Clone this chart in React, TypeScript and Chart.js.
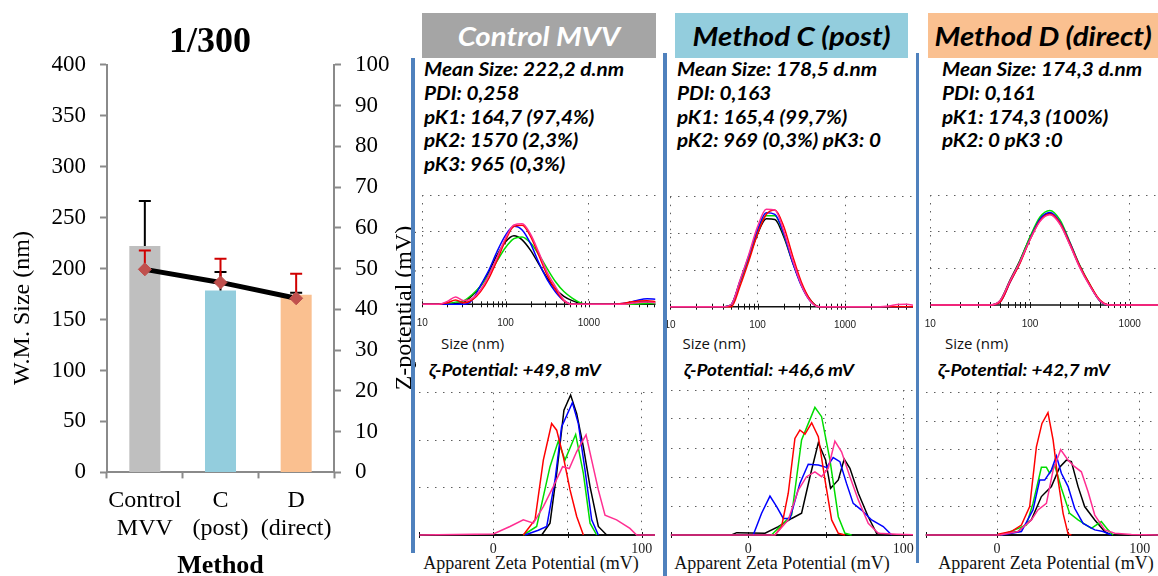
import React, { useEffect, useRef } from 'react';
import { Chart, registerables } from 'chart.js';

Chart.register(...registerables);

const SERIF = '"Liberation Serif", "Times New Roman", serif';
const LATO = 'Lato, "Open Sans", sans-serif';

// ---------------- main chart data ----------------
const METHOD_LABELS = [['Control', 'MVV'], ['C', '(post)'], ['D', '(direct)']];
const WM_SIZE = [222.2, 178.5, 174.3];
const WM_SIZE_ERR = [44, 18, 2];
const Z_POTENTIAL = [49.8, 46.6, 42.7];
const Z_POTENTIAL_ERR = [4.6, 5.8, 6.0];
const BAR_COLORS = ['#BFBFBF', '#93CDDD', '#FAC090'];

// ---------------- panel texts ----------------
const PANEL_TITLES = ['Control MVV', 'Method C (post)', 'Method D (direct)'];
const CTRL_STATS = ['Mean Size: 222,2 d.nm', 'PDI: 0,258', 'pK1: 164,7 (97,4%)', 'pK2: 1570 (2,3%)', 'pK3: 965 (0,3%)'];
const METHOD_C_STATS = ['Mean Size: 178,5 d.nm', 'PDI: 0,163', 'pK1: 165,4 (99,7%)', 'pK2: 969 (0,3%) pK3: 0'];
const METHOD_D_STATS = ['Mean Size: 174,3 d.nm', 'PDI: 0,161', 'pK1: 174,3 (100%)', 'pK2: 0 pK3 :0'];
const ZETA_TEXTS = ['ζ-Potential: +49,8 mV', 'ζ-Potential: +46,6 mV', 'ζ-Potential: +42,7 mV'];

// ---------------- size distribution (nm, log axis) ----------------
const SIZE_NM = [10, 12.6, 15.8, 20, 25.1, 31.6, 39.8, 50.1, 63.1, 79.4, 100, 126, 158, 200, 251, 316, 398, 501, 631, 794, 1000, 1259, 1585, 1995, 2512, 3162, 3981, 5012, 6310];
const SIZE_AXIS_TICKS = [10, 20, 30, 40, 50, 60, 70, 80, 90, 100, 200, 300, 400, 500, 600, 700, 800, 900, 1000, 2000, 3000, 4000, 5000, 6000];
const SIZE_AXIS_LABELED = [10, 100, 1000];
const SIZE_Y_TICKS = [0, 5, 10, 15];

const CTRL_SIZE_PINK = [0, 0, 0, 0.4, 1.0, 0.5, 0.8, 2.0, 4.0, 6.5, 9.1, 10.9, 11.05, 9.6, 7.1, 4.4, 2.4, 0.6, 0, 0, 0, 0, 0, 0, 0, 0.1, 0.25, 0.3, 0.2];
const CTRL_SIZE_RED = [0, 0, 0, 0.2, 0.6, 0.2, 0.6, 1.75, 3.6, 6.1, 8.8, 10.7, 10.85, 9.3, 6.7, 4.0, 2.0, 0.5, 0, 0, 0, 0, 0, 0, 0.1, 0.3, 0.45, 0.5, 0.35];
const CTRL_SIZE_BLUE = [0, 0, 0, 0, 0, 0, 0.6, 2.6, 4.7, 7.3, 9.5, 10.7, 10.2, 8.3, 5.7, 3.4, 1.7, 0.5, 0, 0, 0, 0, 0, 0, 0.1, 0.3, 0.6, 0.75, 0.7];
const CTRL_SIZE_GREEN = [0, 0, 0, 0.1, 0.3, 0.5, 1.35, 2.5, 4.1, 6.0, 7.8, 9.0, 9.25, 8.4, 6.8, 4.9, 3.1, 1.75, 0.85, 0.2, 0, 0, 0, 0, 0, 0, 0.05, 0.1, 0.1];
const CTRL_SIZE_BLACK = [0, 0, 0, 0, 0.1, 0.3, 1.2, 2.5, 4.5, 6.8, 8.6, 9.4, 8.85, 7.4, 5.5, 3.6, 2.1, 1.1, 0.5, 0.1, 0, 0, 0, 0, 0, 0.1, 0.3, 0.35, 0.3];

const C_SIZE_PINK = [0, 0, 0, 0, 0, 0, 0, 0.3, 3.6, 7.1, 10.9, 13.3, 13.2, 10.3, 6.4, 3.0, 0.8, 0, 0, 0, 0, 0, 0, 0, 0, 0.1, 0.3, 0.35, 0.15];
const C_SIZE_RED = [0, 0, 0, 0, 0, 0, 0, 0, 2.8, 6.2, 9.9, 12.6, 13.2, 10.9, 7.0, 3.4, 1.0, 0, 0, 0, 0, 0, 0, 0, 0, 0, 0, 0, 0];
const C_SIZE_BLUE = [0, 0, 0, 0, 0, 0, 0, 0.3, 3.5, 6.9, 10.5, 12.8, 12.6, 9.9, 6.1, 2.9, 0.8, 0, 0, 0, 0, 0, 0, 0, 0, 0, 0, 0, 0];
const C_SIZE_GREEN = [0, 0, 0, 0, 0, 0, 0, 0.3, 3.4, 6.7, 10.2, 12.4, 12.4, 9.8, 6.2, 3.0, 0.9, 0, 0, 0, 0, 0, 0, 0, 0, 0, 0, 0, 0];
const C_SIZE_BLACK = [0, 0, 0, 0, 0, 0, 0, 0.3, 3.4, 6.6, 9.9, 12.0, 11.9, 9.5, 6.1, 3.1, 1.0, 0, 0, 0, 0, 0, 0, 0, 0, 0, 0, 0, 0];

const D_SIZE_PINK = [0, 0, 0, 0, 0, 0, 0, 0.6, 3.3, 5.9, 8.9, 11.4, 12.3, 11.0, 8.2, 5.1, 2.6, 0.6, 0, 0, 0, 0, 0, 0, 0, 0, 0, 0, 0];
const D_SIZE_RED = [0, 0, 0, 0, 0, 0, 0, 0.4, 3.1, 5.7, 8.9, 11.5, 12.4, 11.2, 8.4, 5.3, 2.8, 0.7, 0, 0, 0, 0, 0, 0, 0, 0, 0, 0, 0];
const D_SIZE_BLUE = [0, 0, 0, 0, 0, 0, 0, 0.4, 3.1, 5.8, 9.0, 11.7, 12.6, 11.3, 8.5, 5.3, 2.7, 0.6, 0, 0, 0, 0, 0, 0, 0, 0, 0, 0, 0];
const D_SIZE_GREEN = [0, 0, 0, 0, 0, 0, 0, 0.5, 3.2, 6.0, 9.3, 12.0, 12.9, 11.6, 8.6, 5.4, 2.8, 0.6, 0, 0, 0, 0, 0, 0, 0, 0, 0, 0, 0];
const D_SIZE_BLACK = [0, 0, 0, 0, 0, 0, 0, 0.6, 3.4, 6.1, 9.2, 11.7, 12.5, 11.1, 8.3, 5.2, 2.7, 0.6, 0, 0, 0, 0, 0, 0, 0, 0, 0, 0, 0];

// ---------------- zeta distribution ([mV, counts]) ----------------
const ZETA_AXIS_TICKS = [-50, 0, 50, 100];
const ZETA_AXIS_LABELED = [0, 100];
const CTRL_ZETA_Y_TICKS = [0, 1, 2, 3];
const METHOD_ZETA_Y_TICKS = [0, 1, 2, 3, 4, 5];

const CTRL_ZETA_PINK = [[-50, 0], [0, 0.02], [11.2, 0.18], [20.2, 0.32], [27, 0.25], [33.7, 0.6], [40.4, 1.02], [46.7, 1.44], [51.2, 1.4], [56.2, 1.76], [62.5, 2.11], [66.3, 1.58], [70.8, 0.95], [75.3, 0.42], [83.1, 0.32], [92.1, 0.14], [96.6, 0], [110, 0]];
const CTRL_ZETA_RED = [[20.2, 0], [28.1, 0.32], [33.7, 1.58], [39.3, 2.35], [42.7, 2.21], [47.2, 1.65], [51.7, 0.95], [56.2, 0.39], [60.7, 0]];
const CTRL_ZETA_BLUE = [[21.3, 0], [30.3, 0.1], [36, 0.18], [41.6, 1.16], [46, 2.28], [53.3, 2.79], [57.3, 2.35], [61.8, 1.37], [66.3, 0.32], [70.8, 0]];
const CTRL_ZETA_GREEN = [[20.2, 0], [29.2, 0.18], [38.2, 1.44], [43.8, 1.98], [48.3, 1.58], [55.5, 2.12], [60.7, 1.3], [65.2, 0.25], [69.7, 0]];
const CTRL_ZETA_BLACK = [[32.6, 0], [38.2, 0.25], [42.7, 1.3], [47.6, 2.63], [52.1, 2.95], [56.2, 2.56], [60.7, 1.86], [65.2, 1.02], [70.8, 0.18], [76.4, 0]];

const C_ZETA_PINK = [[-50, 0], [17.2, 0], [25.8, 0.52], [32.3, 1.55], [37.6, 2.01], [43, 2.18], [47.3, 2.01], [51.6, 2.3], [55.9, 3.24], [60.2, 2.87], [65.6, 2.01], [71, 1.21], [77.4, 0.4], [83.9, 0.06], [95.7, 0.03], [110, 0]];
const C_ZETA_RED = [[17.2, 0], [21.5, 0.29], [25.8, 1.44], [30.1, 3.33], [33.3, 3.62], [36.6, 3.48], [40.9, 3.87], [45.2, 3.39], [49.5, 1.9], [53.8, 0.52], [58.1, 0.06], [62.4, 0]];
const C_ZETA_BLUE = [[3.2, 0], [8.6, 0.75], [14, 1.34], [18.3, 0.98], [22.6, 0.57], [26.9, 0.57], [33.3, 1.78], [38.7, 2.44], [45.2, 2.41], [50.5, 2.33], [54.8, 2.67], [59.1, 2.53], [63.4, 1.78], [67.7, 1.09], [73.1, 0.86], [79.6, 0.52], [87.1, 0.29], [92.5, 0]];
const C_ZETA_GREEN = [[15, 0], [20.4, 0.29], [28, 0.69], [34.4, 3.28], [43, 4.4], [47.3, 4.08], [52.7, 2.59], [58.1, 0.63], [62.4, 0.06], [66.7, 0]];
const C_ZETA_BLACK = [[-10.8, 0], [-7.5, 0.08], [10.8, 0.06], [19.4, 0.29], [28, 0.57], [34.4, 0.75], [39.8, 2.01], [45.2, 3.18], [49.9, 2.59], [53.1, 1.61], [58.1, 1.9], [61.9, 2.62], [65.6, 2.3], [71, 1.44], [77.4, 0.63], [82.8, 0.06], [92.5, 0]];

const D_ZETA_PINK = [[-50, 0], [1.9, 0], [14.7, 0.12], [24.1, 0.53], [28.7, 0.88], [34.6, 1.11], [39.3, 2.28], [44.6, 3.0], [49.8, 2.63], [54.4, 2.4], [59.1, 2.22], [63.8, 1.52], [68.5, 0.7], [75.5, 0.18], [82.5, 0.06], [94.2, 0.02], [115, 0]];
const D_ZETA_RED = [[0.7, 0.03], [10, 0.12], [17.1, 0.35], [22.9, 1.0], [27.6, 3.1], [31.5, 3.92], [35.7, 4.3], [39.3, 3.34], [42.8, 1.93], [46.3, 0.76], [49.8, 0.04], [52.1, 0]];
const D_ZETA_BLUE = [[3, 0], [17.1, 0.12], [25.2, 0.88], [29.9, 1.93], [33.4, 1.93], [38.1, 2.28], [41.6, 2.78], [45.1, 2.17], [49.8, 1.7], [54.4, 0.94], [60.3, 0.41], [68.5, 0.18], [74.3, 0.12], [80.1, 0]];
const D_ZETA_GREEN = [[3, 0], [12.4, 0.18], [20.6, 0.35], [25.2, 1.11], [31.1, 2.38], [34.6, 2.38], [36.9, 2.17], [40.4, 2.46], [45.1, 1.64], [50.9, 0.76], [56.8, 0.53], [66.1, 0.23], [73.1, 0.47], [77.8, 0.18], [81.3, 0]];
const D_ZETA_BLACK = [[3, 0.03], [14.7, 0.12], [24.1, 0.53], [31.1, 1.35], [38.1, 1.7], [43.9, 2.38], [48.6, 2.63], [52.1, 2.58], [56.8, 1.7], [61.4, 1.0], [68.5, 0.53], [75.5, 0.12], [80.1, 0]];

const RUN_COLORS = ['#FF2F92', '#FF0000', '#0000FF', '#00DD00', '#000000']; // pink, red, blue, green, black

// ---------------- layout (positions only) ----------------
const PANELS = [
  {
    title: PANEL_TITLES[0], titleColor: '#FFFFFF', headerBg: '#A5A5A5',
    header: { left: 422, top: 13, width: 234, height: 45 },
    stats: CTRL_STATS, statsLeft: 424,
    zeta: ZETA_TEXTS[0], zetaLeft: 429, sizeLabelLeft: 441, apparentCenter: 531,
    size: { left: 416, top: 185, width: 246, height: 150, padL: 6.3, padR: 6.5, padT: 10, axisH: 30.7, max: 6310 },
    zetaChart: { left: 416, top: 382, width: 246, height: 176, padL: 3.2, padR: 7, padT: 10.7, axisH: 23, max: 109 },
    zetaAxis: { left: 419, width: 236 },
    sizeRuns: [CTRL_SIZE_PINK, CTRL_SIZE_RED, CTRL_SIZE_BLUE, CTRL_SIZE_GREEN, CTRL_SIZE_BLACK],
    zetaRuns: [CTRL_ZETA_PINK, CTRL_ZETA_RED, CTRL_ZETA_BLUE, CTRL_ZETA_GREEN, CTRL_ZETA_BLACK],
    zetaYTicks: CTRL_ZETA_Y_TICKS,
  },
  {
    title: PANEL_TITLES[1], titleColor: '#000000', headerBg: '#93CDDD',
    header: { left: 675, top: 13, width: 233, height: 45 },
    stats: METHOD_C_STATS, statsLeft: 677,
    zeta: ZETA_TEXTS[1], zetaLeft: 683.5, sizeLabelLeft: 682.5, apparentCenter: 782,
    size: { left: 662, top: 185, width: 255, height: 150, padL: 8, padR: 4, padT: 11.7, axisH: 28.3, max: 5984 },
    zetaChart: { left: 662, top: 382, width: 255, height: 176, padL: 8.8, padR: 4, padT: 8, axisH: 23, max: 106.3 },
    zetaAxis: { left: 670.8, width: 242.2 },
    sizeRuns: [C_SIZE_PINK, C_SIZE_RED, C_SIZE_BLUE, C_SIZE_GREEN, C_SIZE_BLACK],
    zetaRuns: [C_ZETA_PINK, C_ZETA_RED, C_ZETA_BLUE, C_ZETA_GREEN, C_ZETA_BLACK],
    zetaYTicks: METHOD_ZETA_Y_TICKS,
  },
  {
    title: PANEL_TITLES[2], titleColor: '#000000', headerBg: '#FAC090',
    header: { left: 928, top: 13, width: 230, height: 45 },
    stats: METHOD_D_STATS, statsLeft: 942,
    zeta: ZETA_TEXTS[2], zetaLeft: 938, sizeLabelLeft: 945, apparentCenter: 1046,
    size: { left: 920, top: 185, width: 238, height: 150, padL: 10.3, padR: 0, padT: 10, axisH: 30, max: 1923 },
    zetaChart: { left: 920, top: 382, width: 238, height: 176, padL: 5.65, padR: 0, padT: 10.7, axisH: 23, max: 112.8 },
    zetaAxis: { left: 925.6, width: 232.4 },
    sizeRuns: [D_SIZE_PINK, D_SIZE_RED, D_SIZE_BLUE, D_SIZE_GREEN, D_SIZE_BLACK],
    zetaRuns: [D_ZETA_PINK, D_ZETA_RED, D_ZETA_BLUE, D_ZETA_GREEN, D_ZETA_BLACK],
    zetaYTicks: METHOD_ZETA_Y_TICKS,
  },
];

const SEPARATORS = [
  { left: 411, top: 58, height: 495 },
  { left: 663, top: 53, height: 523 },
  { left: 915.5, top: 53, height: 510 },
];

// ---------------- plugins ----------------
function drawErrors(chart: any, index: number, phase: string) {
  const ds = chart.data.datasets[index];
  if (!ds || !ds.errorPlus || ds.errorPhase !== phase) return;
  const meta = chart.getDatasetMeta(index);
  const scale = chart.scales[meta.yAxisID];
  const ctx = chart.ctx;
  ctx.save();
  ctx.strokeStyle = ds.errorColor;
  ctx.lineWidth = ds.errorWidth;
  meta.data.forEach((el: any, i: number) => {
    const v = ds.data[i];
    const x = el.x;
    const y0 = scale.getPixelForValue(v);
    const y1 = scale.getPixelForValue(v + ds.errorPlus[i]);
    ctx.beginPath();
    ctx.moveTo(x, y0);
    ctx.lineTo(x, y1);
    ctx.moveTo(x - ds.errorCap, y1);
    ctx.lineTo(x + ds.errorCap, y1);
    ctx.stroke();
  });
  ctx.restore();
}

const errorBarsPlugin = {
  id: 'errorBars',
  beforeDatasetDraw(chart: any, args: any) { drawErrors(chart, args.index, 'before'); },
  afterDatasetDraw(chart: any, args: any) { drawErrors(chart, args.index, 'after'); },
};

const sideTitlesPlugin = {
  id: 'sideTitles',
  afterDraw(chart: any, _args: any, opts: any) {
    const ctx = chart.ctx;
    (opts.items || []).forEach((it: any) => {
      ctx.save();
      ctx.translate(it.x, it.y);
      ctx.rotate(-Math.PI / 2);
      ctx.font = opts.font;
      ctx.fillStyle = '#000';
      ctx.textAlign = 'center';
      ctx.textBaseline = 'middle';
      ctx.fillText(it.text, 0, 0);
      ctx.restore();
    });
  },
};

// axis line of the small distribution plots, with tick marks crossing it
function drawAxisLine(chart: any) {
  const { ctx, chartArea } = chart;
  const xs = chart.scales.x;
  const y = chartArea.bottom;
  ctx.save();
  ctx.strokeStyle = '#111';
  ctx.lineWidth = 1.6;
  ctx.beginPath();
  ctx.moveTo(chartArea.left, y);
  ctx.lineTo(chartArea.right, y);
  ctx.stroke();
  ctx.lineWidth = 1;
  ctx.beginPath();
  (xs.ticks || []).forEach((t: any) => {
    const px = Math.round(xs.getPixelForValue(t.value)) + 0.5;
    ctx.moveTo(px, y - 3);
    ctx.lineTo(px, y + 3);
  });
  ctx.stroke();
  ctx.restore();
}

const axisLinePlugin = {
  id: 'axisLine',
  beforeDatasetsDraw(chart: any) { drawAxisLine(chart); },
};

// ---------------- configs ----------------
function mainConfig(): any {
  const AXIS = '#8A8A8A';
  const yTickFont = { family: SERIF, size: 23 };
  return {
    type: 'bar',
    data: {
      labels: METHOD_LABELS,
      datasets: [
        {
          type: 'line', label: 'Z-potential', data: Z_POTENTIAL, yAxisID: 'y2', order: 1,
          borderColor: '#000000', borderWidth: 5, tension: 0,
          pointStyle: 'rectRot', pointRadius: 6.5, pointBackgroundColor: '#C0504D', pointBorderColor: '#C0504D', pointBorderWidth: 1,
          errorPlus: Z_POTENTIAL_ERR, errorColor: '#D00000', errorWidth: 2, errorCap: 6, errorPhase: 'before',
        },
        {
          type: 'bar', label: 'W.M. Size', data: WM_SIZE, yAxisID: 'y', order: 2,
          backgroundColor: BAR_COLORS, borderWidth: 0, barPercentage: 0.41, categoryPercentage: 1,
          errorPlus: WM_SIZE_ERR, errorColor: '#000000', errorWidth: 2, errorCap: 6, errorPhase: 'after',
        },
      ],
    },
    plugins: [errorBarsPlugin, sideTitlesPlugin],
    options: {
      responsive: false, animation: false, events: [],
      layout: { padding: 0 },
      plugins: {
        legend: { display: false },
        tooltip: { enabled: false },
        title: {
          display: true, text: '1/300', color: '#000',
          font: { family: SERIF, size: 36, weight: 'bold', lineHeight: 1.2 },
          padding: { top: 21.5, bottom: 0 },
        },
        sideTitles: {
          font: `24px ${SERIF}`,
          items: [
            { text: 'W.M. Size (nm)', x: 23, y: 308 },
            { text: 'Z-potential (mV)', x: 405, y: 308 },
          ],
        },
      },
      scales: {
        x: {
          type: 'category',
          afterFit: (s: any) => { s.height = 103.6; s.paddingLeft = 0; s.paddingRight = 0; },
          grid: { offset: true, drawOnChartArea: false, drawTicks: true, tickLength: 6, tickColor: AXIS, tickWidth: 2 },
          border: { display: true, color: AXIS, width: 2 },
          ticks: { color: '#000', font: { family: SERIF, size: 24, lineHeight: 1.167 }, padding: 8, maxRotation: 0, autoSkip: false },
          title: { display: true, text: 'Method', color: '#000', font: { family: SERIF, size: 26, weight: 'bold', lineHeight: 0.75 }, padding: 0 },
        },
        y: {
          position: 'left', min: 0, max: 400,
          afterFit: (s: any) => { s.width = 107; },
          grid: { drawOnChartArea: false, drawTicks: true, tickLength: 7, tickColor: AXIS, tickWidth: 2 },
          border: { display: true, color: AXIS, width: 2 },
          ticks: { stepSize: 50, color: '#000', font: yTickFont, padding: 14 },
        },
        y2: {
          position: 'right', min: 0, max: 100,
          afterFit: (s: any) => { s.width = 86; },
          grid: { drawOnChartArea: false, drawTicks: true, tickLength: 7, tickColor: AXIS, tickWidth: 2 },
          border: { display: true, color: AXIS, width: 2 },
          ticks: { stepSize: 10, color: '#000', font: yTickFont, padding: 14 },
        },
      },
    },
  };
}

const GRID_COLOR = '#5E5E5E';
const GRID_DASH = [1.5, 6.5];

function smallOptions(o: any): any {
  const g = o.geom;
  return {
    responsive: false, animation: false, events: [],
    layout: { padding: { left: g.padL, right: g.padR, top: g.padT, bottom: 0 } },
    plugins: { legend: { display: false }, tooltip: { enabled: false }, title: { display: false } },
    elements: { point: { radius: 0 } },
    scales: {
      x: {
        type: o.xType, min: o.xMin, max: g.max,
        afterBuildTicks: (s: any) => { s.ticks = o.xTicks.filter((v: number) => v <= g.max).map((v: number) => ({ value: v })); },
        afterFit: (s: any) => { s.height = g.axisH; s.paddingLeft = 0; s.paddingRight = 0; },
        ticks: {
          autoSkip: false, maxRotation: 0, minRotation: 0,
          callback: (v: any) => (o.xLabeled.includes(Number(v)) ? String(v) : ''),
          font: o.tickFont, color: '#222', padding: o.tickPad,
        },
        grid: {
          color: (c: any) => (c.tick && o.xGrid.includes(c.tick.value) ? GRID_COLOR : 'rgba(0,0,0,0)'),
          lineWidth: 1, drawTicks: false,
        },
        border: { display: false, dash: GRID_DASH },
      },
      y: {
        type: 'linear', min: 0, max: o.yTicks[o.yTicks.length - 1],
        afterBuildTicks: (s: any) => { s.ticks = o.yTicks.map((v: number) => ({ value: v })); },
        afterFit: (s: any) => { s.width = 0; s.paddingTop = 0; s.paddingBottom = 0; },
        ticks: { display: false },
        grid: { color: (c: any) => (c.tick && c.tick.value === 0 ? 'rgba(0,0,0,0)' : GRID_COLOR), drawTicks: false, lineWidth: 1 },
        border: { display: false, dash: GRID_DASH },
      },
    },
  };
}

const RUN_CLIP = { left: 0, right: 0, top: 3, bottom: 3 };

function sizeConfig(p: any): any {
  return {
    type: 'line',
    data: {
      datasets: p.sizeRuns.map((run: number[], k: number) => ({
        data: SIZE_NM.map((x, i) => ({ x, y: run[i] })),
        borderColor: RUN_COLORS[k], borderWidth: 1.5, pointRadius: 0, fill: false,
        cubicInterpolationMode: 'monotone', clip: RUN_CLIP,
      })),
    },
    plugins: [axisLinePlugin],
    options: smallOptions({
      geom: p.size, xType: 'logarithmic', xMin: 10, xTicks: SIZE_AXIS_TICKS, xLabeled: SIZE_AXIS_LABELED,
      xGrid: SIZE_AXIS_LABELED, yTicks: SIZE_Y_TICKS,
      tickFont: { family: '"Liberation Sans", Arial, sans-serif', size: 10 }, tickPad: 13,
    }),
  };
}

function zetaConfig(p: any): any {
  return {
    type: 'line',
    data: {
      datasets: p.zetaRuns.map((run: number[][], k: number) => ({
        data: run.map(([x, y]) => ({ x, y })),
        borderColor: RUN_COLORS[k], borderWidth: 1.5, pointRadius: 0, fill: false, tension: 0, clip: RUN_CLIP,
      })),
    },
    plugins: [axisLinePlugin],
    options: smallOptions({
      geom: p.zetaChart, xType: 'linear', xMin: -50, xTicks: ZETA_AXIS_TICKS, xLabeled: ZETA_AXIS_LABELED,
      xGrid: [0, 50, 100], yTicks: p.zetaYTicks,
      tickFont: { family: SERIF, size: 14 }, tickPad: 6,
    }),
  };
}

// ---------------- components ----------------
function ChartBox({ left, top, width, height, make }: any) {
  const ref = useRef<HTMLCanvasElement>(null);
  useEffect(() => {
    const chart = new Chart(ref.current as HTMLCanvasElement, make());
    return () => chart.destroy();
  }, []);
  return (
    <canvas
      ref={ref}
      width={width}
      height={height}
      style={{ position: 'absolute', left, top, width, height, display: 'block' }}
    />
  );
}

const abs = (s: any): any => ({ position: 'absolute', whiteSpace: 'nowrap', margin: 0, ...s });
const boldItalic = { fontFamily: LATO, fontWeight: 700, fontStyle: 'italic' };

export default function App() {
  return (
    <div style={{ position: 'fixed', left: 0, top: 0, width: 1158, height: 576, background: '#ffffff', overflow: 'hidden' }}>
      {PANELS.map((p, k) => (
        <div key={'t' + k}>
          <div
            style={abs({
              left: p.header.left, top: p.header.top, width: p.header.width, height: p.header.height,
              background: p.headerBg, color: p.titleColor, display: 'flex', alignItems: 'center', justifyContent: 'center',
              overflow: 'visible', ...boldItalic, fontSize: 26,
            })}
          >
            <span style={{ display: 'inline-block', transform: 'scaleX(1.13)', transformOrigin: 'center' }}>{p.title}</span>
          </div>
          <div style={abs({ left: p.statsLeft, top: 58, ...boldItalic, fontSize: 18, lineHeight: '23.75px', color: '#000', transform: 'scaleX(1.15)', transformOrigin: 'left top' })}>
            {p.stats.map((line: string, i: number) => (<div key={i}>{line}</div>))}
          </div>
          <div style={abs({ left: p.sizeLabelLeft, top: 333.5, fontFamily: '"Open Sans", sans-serif', fontSize: 15, lineHeight: '18px', color: '#111' })}>
            Size (nm)
          </div>
          <div style={abs({ left: p.zetaLeft, top: 358.5, ...boldItalic, fontSize: 17, lineHeight: '22px', color: '#000', transform: 'scaleX(1.11)', transformOrigin: 'left top' })}>
            {p.zeta}
          </div>
          <div style={abs({ left: p.apparentCenter - 130, width: 260, top: 552.5, textAlign: 'center', fontFamily: SERIF, fontSize: 18, lineHeight: '20px', color: '#111' })}>
            Apparent Zeta Potential (mV)
          </div>
          <div style={abs({ left: p.zetaAxis.left, top: 534, width: p.zetaAxis.width, height: 2, background: '#111' })} />
        </div>
      ))}
      <ChartBox left={0} top={0} width={420} height={576} make={mainConfig} />
      {PANELS.map((p, k) => (
        <React.Fragment key={'c' + k}>
          <ChartBox left={p.size.left} top={p.size.top} width={p.size.width} height={p.size.height} make={() => sizeConfig(p)} />
          <ChartBox left={p.zetaChart.left} top={p.zetaChart.top} width={p.zetaChart.width} height={p.zetaChart.height} make={() => zetaConfig(p)} />
        </React.Fragment>
      ))}
      {SEPARATORS.map((s, k) => (
        <div key={'s' + k} style={abs({ left: s.left, top: s.top, width: 3.5, height: s.height, background: '#4F81BD' })} />
      ))}
    </div>
  );
}
